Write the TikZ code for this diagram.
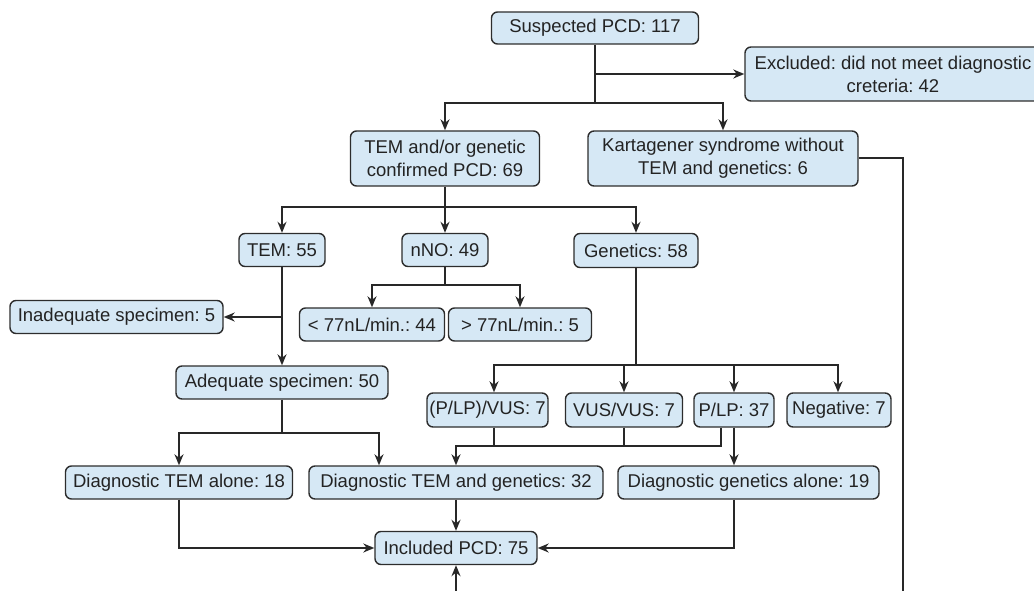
\documentclass[tikz,border=0pt]{standalone}
\usepackage{fontspec}
\setmainfont{Liberation Sans}
\usetikzlibrary{arrows.meta}
\definecolor{boxfill}{RGB}{214,232,245}
\definecolor{boxline}{RGB}{45,45,45}
\definecolor{txt}{RGB}{35,35,35}
\definecolor{conn}{RGB}{40,40,40}
\begin{document}
\frenchspacing
\begin{tikzpicture}[x=1pt,y=-1pt,
  box/.style={draw=boxline, line width=1.4pt, fill=boxfill, rounded corners=6pt,
    inner sep=0pt, align=center, text=txt,
    font=\fontsize{18.5}{23}\selectfont\frenchspacing},
  wire/.style={draw=conn, line width=1.6pt},
  arr/.style={wire, -{Stealth[length=11pt,width=9pt,inset=3.5pt]}},
  darr/.style={wire, {Stealth[length=11pt,width=9pt,inset=3.5pt]}-{Stealth[length=11pt,width=9pt,inset=3.5pt]}}
]
\useasboundingbox (0,0) rectangle (1034,591);

% nodes
\node[box, minimum width=207pt, minimum height=32pt] (sus) at (595,28) {Suspected PCD: 117};
\node[box, minimum width=296pt, minimum height=54pt] (exc) at (893,74) {Excluded: did not meet diagnostic\\creteria: 42};
\node[box, minimum width=189pt, minimum height=55pt] (tg) at (445,158.5) {TEM and/or genetic\\confirmed PCD: 69};
\node[box, minimum width=270pt, minimum height=55pt] (kar) at (723,158.5) {Kartagener syndrome without\\TEM and genetics: 6};
\node[box, minimum width=86pt, minimum height=33pt] (tem) at (282,250) {TEM: 55};
\node[box, minimum width=86pt, minimum height=33pt] (nno) at (445,250) {nNO: 49};
\node[box, minimum width=124pt, minimum height=34pt] (gen) at (636,250.5) {Genetics: 58};
\node[box, minimum width=213pt, minimum height=33pt] (inad) at (116.5,317) {Inadequate specimen: 5};
\node[box, minimum width=145pt, minimum height=33pt] (lo) at (372,324.5) {< 77nL/min.: 44};
\node[box, minimum width=143pt, minimum height=33pt] (hi) at (520,324.5) {> 77nL/min.: 5};
\node[box, minimum width=212pt, minimum height=33pt] (adq) at (282,382.5) {Adequate specimen: 50};
\node[box, minimum width=121pt, minimum height=34pt] (plvus) at (487.5,410) {(P/LP)/VUS: 7};
\node[box, minimum width=117pt, minimum height=34pt] (vv) at (624,410) {VUS/VUS: 7};
\node[box, minimum width=80pt, minimum height=34pt] (plp) at (734,410) {P/LP: 37};
\node[box, minimum width=104pt, minimum height=34pt] (neg) at (839,410) {Negative: 7};
\node[box, minimum width=227pt, minimum height=33pt] (dta) at (179,482.5) {Diagnostic TEM alone: 18};
\node[box, minimum width=294pt, minimum height=33pt] (dtg) at (456,482.5) {Diagnostic TEM and genetics: 32};
\node[box, minimum width=261pt, minimum height=33pt] (dga) at (748.5,482.5) {Diagnostic genetics alone: 19};
\node[box, minimum width=162pt, minimum height=33pt] (inc) at (456,548) {Included PCD: 75};

% junction coordinates
\coordinate (j1) at (595,103);
\coordinate (j2) at (445,207);
\coordinate (j3) at (445,285);
\coordinate (b1) at (494,365);
\coordinate (b4) at (838,365);
\coordinate (g1) at (636,365);
\coordinate (a1) at (282,433);
\coordinate (a2) at (379,433);
\coordinate (m) at (456,446);
\coordinate (m1) at (721,446);
\coordinate (k1) at (903,158);
\coordinate (kend) at (903,591);
\coordinate (bot) at (456,591);

% connectors
\draw[wire] (sus) -- (j1);
\draw[arr] (sus.south |- exc.west) -- (exc.west);
\draw[darr] (tg) |- (j1) -| (kar);

\draw[arr] (tg) -- (nno);
\draw[darr] (tem) |- (j2) -| (gen);

\draw[wire] (nno) -- (j3);
\draw[darr] (lo) |- (j3) -| (hi);

\draw[arr] (tem) -- (adq);
\draw[arr] (tem.south |- inad.east) -- (inad);

\draw[wire] (gen) -- (g1);
\draw[darr] (b1 |- plvus.north) -- (b1) -- (b4) -- (b4 |- neg.north);
\draw[arr] (vv |- b1) -- (vv);
\draw[arr] (plp |- b1) -- (plp);

\draw[wire] (b1 |- plvus.south) -- (b1 |- m);
\draw[wire] (vv) -- (vv |- m);
\draw[arr] (m1 |- plp.south) -- (m1) -- (m) -- (dtg);
\draw[arr] (plp) -- (plp |- dga.north);

\draw[wire] (adq) -- (a1);
\draw[darr] (dta) |- (a2) -- (a2 |- dtg.north);

\draw[arr] (dtg) -- (inc);
\draw[arr] (dta) |- (inc);
\draw[arr] (plp |- dga.south) |- (inc);

\draw[wire] (kar.east |- k1) -- (k1) -- (kend);
\draw[arr] (bot) -- (inc);
\end{tikzpicture}
\end{document}
